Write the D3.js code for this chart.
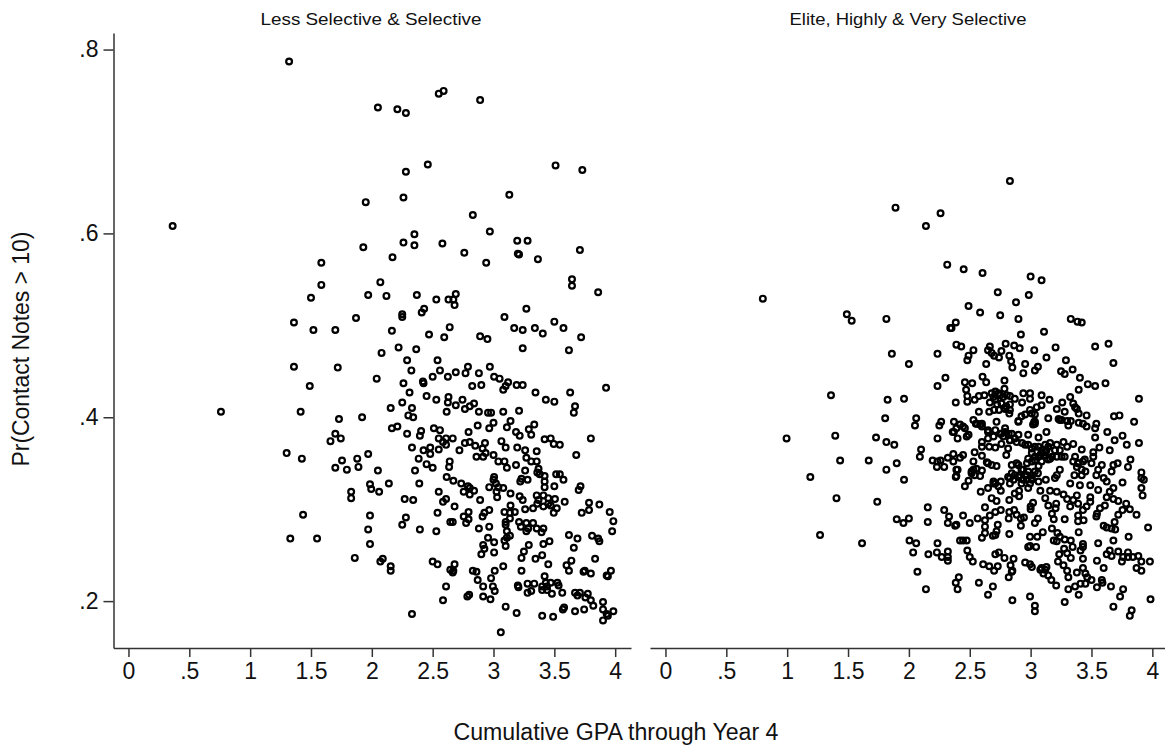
<!DOCTYPE html>
<html>
<head>
<meta charset="utf-8">
<script src="https://cdn.jsdelivr.net/npm/d3@7"></script>
<style>
  html, body { margin: 0; background: #fff; }
  text { font-family: "Liberation Sans", Arial, sans-serif; fill: #111; }
</style>
</head>
<body>
<div id="chart"></div>
<script>
var panelTitles = ["Less Selective & Selective", "Elite, Highly & Very Selective"];
var xTicks = [0, .5, 1, 1.5, 2, 2.5, 3, 3.5, 4];
var yTicks = [.2, .4, .6, .8];

// [gpa, pr]
var lessSelective = [
[1.32,.787],[2.05,.737],[1.95,.634],[.363,.608],[.76,.406],[1.93,.585],[1.585,.568],[1.585,.544],[1.50,.530],[2.07,.547],[1.97,.533],[1.36,.503],[1.52,.495],[1.70,.495],[1.87,.508],
[2.21,.735],[2.28,.731],[2.55,.752],[2.59,.755],[2.89,.745],[2.46,.675],[2.28,.667],[3.51,.674],[3.73,.669],[2.26,.639],[3.13,.642],[2.83,.620],[2.97,.602],[2.35,.599],[2.26,.590],[2.35,.587],[2.58,.589],[2.76,.579],[2.94,.568],[2.17,.574],[3.195,.592],[3.28,.592],[3.20,.578],[3.21,.577],[3.365,.572],[3.71,.582],[3.645,.550],[3.645,.543],[3.86,.536],[2.12,.532],[2.37,.533],[2.53,.528],[2.63,.528],[2.69,.534],[2.67,.528],[2.68,.522],[2.43,.518],[2.41,.514],[2.25,.512],[2.25,.509],[3.09,.509],[3.27,.518],[3.50,.504],[3.575,.497],[3.17,.497],[3.24,.495],[3.34,.497],[3.405,.491],[3.72,.487],[2.165,.494],[2.64,.498],[2.47,.490],[2.595,.487],[2.89,.488],[2.95,.485],[2.22,.476],[2.365,.474],[2.08,.470],[3.24,.475],[3.62,.473],
[1.36,.455],[1.72,.454],[1.49,.434],[1.415,.406],[1.73,.398],[1.92,.400],[1.70,.382],[1.745,.377],[1.66,.374],[1.30,.361],[1.425,.355],[1.755,.353],[1.70,.345],[1.795,.343],[1.88,.355],[1.89,.346],[1.97,.360],[2.05,.342],[1.985,.327],[1.995,.322],[2.06,.319],[2.14,.328],[1.83,.319],[1.83,.312],[1.435,.294],[1.985,.293],[1.97,.278],[1.985,.262],[1.33,.268],[1.55,.268],[1.86,.247],[2.09,.246],[2.07,.243],[2.155,.238],[2.155,.233],[2.50,.243],[2.54,.240],[2.61,.216],[2.585,.201],[2.33,.186],
[2.29,.462],[2.54,.462],[2.325,.451],[2.56,.451],[2.50,.444],[2.625,.444],[2.04,.442],[2.26,.437],[2.42,.439],[2.425,.437],[2.31,.427],[2.45,.423],[2.53,.419],[2.25,.416],[2.155,.410],[2.33,.410],[2.63,.422],[2.625,.416],[2.615,.406],[2.30,.402],[2.34,.400],[2.21,.390],[2.165,.388],[2.29,.382],[2.405,.385],[2.395,.380],[2.51,.388],[2.56,.386],[2.55,.377],[2.61,.377],[2.585,.373],[2.61,.370],[2.33,.367],[2.425,.364],[2.48,.367],[2.48,.360],[2.55,.365],[2.385,.355],[2.45,.349],[2.50,.345],[2.355,.342],[2.635,.346],[2.64,.352],[2.615,.335],[2.39,.328],[2.55,.319],[2.61,.311],[2.585,.308],[2.27,.311],[2.34,.310],[2.54,.296],[2.28,.291],[2.25,.283],[2.395,.278],[2.53,.276],[2.645,.286],[2.645,.234],
[2.79,.455],[2.77,.448],[2.69,.449],[2.88,.448],[2.97,.455],[3.005,.444],[3.05,.442],[3.12,.438],[3.10,.434],[3.08,.430],[3.19,.435],[3.24,.435],[2.90,.435],[2.825,.434],[3.345,.427],[3.63,.427],[3.925,.432],[3.43,.419],[3.50,.417],[3.67,.412],[3.66,.405],[2.745,.419],[2.69,.413],[2.765,.409],[2.805,.412],[2.84,.415],[2.88,.406],[2.955,.405],[2.98,.405],[3.08,.406],[3.21,.407],[2.87,.391],[3.00,.394],[2.965,.388],[3.14,.396],[3.11,.389],[3.335,.392],[3.29,.387],[3.31,.381],[3.185,.384],[3.215,.380],[2.795,.384],[2.665,.377],[3.42,.376],[3.47,.377],[3.495,.371],[3.545,.370],[3.80,.377],[3.68,.359],[3.065,.374],[3.10,.367],[3.195,.367],[3.26,.364],[3.355,.363],[3.27,.356],[3.31,.352],[3.355,.352],[3.185,.348],[3.26,.342],[3.37,.344],[3.36,.340],[3.38,.338],[3.42,.336],[3.515,.338],[3.545,.338],[3.575,.332],[3.50,.325],[3.715,.325],[3.70,.321],[3.42,.330],[3.42,.324],[3.23,.333],[3.22,.330],[3.28,.332],
[2.765,.372],[2.805,.373],[2.85,.369],[2.93,.372],[2.91,.366],[2.72,.364],[2.86,.357],[2.915,.357],[2.935,.361],[3.00,.359],[3.04,.352],[3.09,.352],[3.11,.345],[2.67,.331],[2.735,.328],[2.79,.325],[2.805,.323],[2.755,.319],[2.805,.316],[2.84,.320],[2.89,.310],[3.005,.335],[3.00,.332],[3.02,.328],[2.965,.324],[3.04,.324],[3.08,.323],[3.025,.319],[3.03,.313],[3.14,.317],[3.215,.314],[3.24,.310],[3.355,.315],[3.41,.315],[3.45,.312],[3.505,.311],[3.585,.308],[3.37,.310],[3.36,.306],[3.41,.303],[3.45,.306],[3.47,.304],[3.52,.301],[3.495,.296],[3.26,.300],[3.325,.301],[3.785,.307],[3.87,.305],[3.785,.299],[3.725,.296],[3.955,.297],[3.985,.287],[3.975,.276],[2.68,.303],[2.795,.297],[2.755,.292],[2.795,.289],[2.775,.285],[2.665,.286],[2.925,.296],[2.965,.299],[2.91,.292],[2.88,.279],[2.965,.281],
[3.14,.304],[3.09,.297],[3.135,.296],[3.175,.297],[3.135,.290],[3.10,.286],[3.10,.283],[3.11,.276],[3.135,.271],[3.11,.269],[3.21,.286],[3.225,.281],[3.27,.285],[3.325,.285],[3.27,.276],[3.285,.279],[3.355,.279],[3.41,.279],[3.395,.275],[3.62,.272],[3.69,.268],[3.81,.271],[3.86,.268],[3.87,.265],[3.66,.258],[2.955,.269],[3.005,.264],[2.915,.261],[2.925,.257],[3.005,.253],[2.90,.251],[3.09,.266],[3.10,.260],[3.29,.261],[3.46,.265],[3.41,.262],[3.25,.254],[3.23,.247],[3.40,.250],[3.345,.246],[3.45,.240],[3.835,.246],[3.64,.244],[3.60,.239],[3.62,.233],[2.68,.240],[2.67,.233],[2.665,.231],[2.83,.233],[2.86,.232],[2.87,.223],[2.915,.216],[3.01,.233],[3.08,.238],[2.98,.225],[2.995,.216],[3.01,.211],[3.23,.233],[3.74,.232],[3.80,.230],[3.75,.233],[3.965,.233],[3.93,.228],[3.94,.227],[3.42,.227],[3.20,.217],[3.205,.215],[3.28,.219],[3.335,.219],[3.43,.220],[3.47,.220],[3.525,.220],[3.535,.217],[3.40,.216],[3.44,.216],[3.40,.212],[3.44,.212],[3.31,.211],[3.28,.209],[3.48,.208],[3.565,.209],[3.67,.209],[3.71,.209],[3.69,.206],[3.775,.208],[3.755,.204],[3.80,.201],[3.82,.195],[2.785,.205],[2.80,.207],[2.915,.205],[2.975,.202],[3.10,.194],[3.19,.187],[3.40,.184],[3.49,.183],[3.67,.189],[3.745,.191],[3.57,.191],[3.58,.193],[3.90,.199],[3.90,.191],[3.985,.189],[3.93,.186],[3.94,.184],[3.90,.179],[3.06,.166]
];

var eliteHighly = [
[2.83,.657],[1.89,.628],[2.26,.622],[2.14,.608],[2.315,.566],[.80,.529],[1.49,.512],[1.53,.505],[1.815,.507],[2.34,.497],[1.86,.469],[2.00,.458],[2.235,.469],[2.30,.443],[2.235,.434],[1.36,.424],[1.825,.419],[1.96,.420],
[2.45,.561],[2.605,.557],[3.00,.553],[3.09,.549],[2.73,.536],[2.985,.533],[2.88,.525],[2.49,.521],[2.585,.514],[2.75,.511],[2.90,.507],[3.33,.507],[3.385,.504],[3.42,.503],[2.385,.503],[2.35,.497],[3.11,.493],[2.92,.490],[3.64,.480],[3.53,.477],[2.39,.479],[2.43,.477],[2.53,.473],[2.49,.467],[2.48,.462],[2.665,.477],[2.65,.473],[2.68,.470],[2.70,.467],[2.795,.480],[2.76,.472],[2.74,.465],[2.865,.478],[2.91,.475],[2.825,.467],[2.84,.461],[2.85,.454],[3.03,.473],[3.205,.476],[3.13,.465],[3.29,.462],[2.635,.458],[2.955,.458],[3.06,.455],[3.035,.451],[2.94,.448],[3.345,.452],[3.25,.450],[3.28,.447],[3.68,.459],[3.405,.443],[3.47,.436],[3.53,.434],[3.615,.437],[3.395,.430],[2.605,.444],[2.635,.438],[2.46,.438],[2.52,.437],[2.47,.430],[2.48,.423],[2.48,.417],[2.54,.419],[2.575,.423],[2.62,.424],[2.385,.416],[2.785,.440],[2.785,.431],
[2.94,.426],[2.995,.426],[2.995,.420],[2.87,.420],[2.93,.416],[3.09,.424],[3.155,.419],[3.09,.413],[3.325,.422],[3.26,.416],[3.215,.409],[3.28,.406],[3.35,.415],[3.365,.411],[3.38,.409],[3.395,.404],[3.46,.402],[3.89,.420],[3.685,.401],[3.73,.402],[3.85,.395],[2.575,.406],[2.66,.406],[2.70,.408],[2.68,.426],[2.71,.428],[2.735,.426],[2.695,.422],[2.75,.424],[2.805,.424],[2.83,.423],[2.775,.422],[2.71,.419],[2.665,.416],[2.725,.414],[2.76,.415],[2.80,.412],[2.83,.414],[2.74,.408],[2.79,.409],[2.83,.408],[2.825,.404],[2.785,.410],[2.90,.396],[2.925,.401],[2.955,.403],[2.995,.408],[3.05,.411],[3.01,.404],[3.035,.403],[3.035,.395],[3.02,.392],[3.145,.399],[3.23,.398],[3.255,.397],[3.30,.396],[3.33,.396],[3.395,.394],[3.43,.393],[3.54,.393],[3.46,.390],[2.53,.397],[2.55,.393],[2.585,.392],[2.37,.395],[2.265,.395],
[1.805,.399],[2.06,.399],[2.05,.391],[2.25,.391],[2.36,.384],[2.39,.388],[2.235,.377],[2.40,.377],[.995,.377],[1.395,.380],[1.73,.378],[1.815,.373],[1.88,.370],[2.10,.365],[2.09,.357],[1.435,.353],[1.67,.353],[1.90,.350],[1.815,.343],[2.195,.353],[2.23,.346],[2.26,.353],[2.29,.346],[2.32,.356],[2.365,.360],[2.365,.352],[2.42,.356],[2.235,.352],[1.19,.335],[1.96,.332],[2.39,.343],[2.385,.335],[2.39,.336],[1.405,.312],[1.74,.308],[2.155,.302],[2.29,.299],[2.33,.292],[2.32,.285],[2.38,.282],[2.39,.283],[1.90,.289],[2.00,.290],[1.955,.285],[2.155,.286],[1.27,.272],[1.615,.263],[2.005,.266],[2.06,.263],[2.235,.263],[2.42,.266],[2.035,.253],[2.16,.251],[2.23,.253],[2.27,.248],[2.32,.254],[2.32,.248],[2.32,.244],[2.07,.232],[2.14,.213],[2.385,.220],[2.41,.226],[2.40,.213],
[3.13,.384],[3.63,.384],[3.53,.378],[3.69,.375],[3.755,.380],[3.79,.370],[3.89,.372],[3.65,.364],[3.565,.367],[3.515,.362],[3.515,.357],[3.82,.354],[3.80,.346],[3.715,.350],[3.68,.348],[3.665,.341],[3.585,.348],[3.555,.343],[3.54,.337],[3.60,.334],[3.625,.330],[3.91,.340],[3.91,.334],[3.93,.332],[3.91,.323],[3.92,.315],[3.755,.329],[3.555,.321],[3.49,.326],[3.405,.326],[3.325,.328],[3.68,.323],[3.65,.319],[3.625,.313],[3.68,.311],[3.72,.309],[3.785,.306],[3.755,.299],[3.815,.300],[3.72,.294],[3.87,.294],[3.69,.286],[3.695,.278],[3.665,.279],[3.60,.282],[3.625,.280],[3.965,.280],[3.805,.270],[3.68,.266],[3.555,.263],[3.65,.255],[3.625,.251],[3.665,.249],[3.72,.254],[3.80,.253],[3.76,.248],[3.75,.243],[3.80,.248],[3.84,.248],[3.885,.249],[3.91,.243],[3.87,.236],[3.91,.233],[3.98,.243],[3.545,.244],[3.60,.236],[3.66,.216],[3.76,.213],[3.735,.205],[3.68,.194],[3.985,.202],[3.83,.190],[3.815,.184],[3.545,.215],[3.585,.223],[3.59,.220],
[3.43,.246],[3.43,.259],[3.41,.255],[3.395,.275],[3.28,.289],[3.39,.293],[3.39,.287],[3.435,.288],[3.54,.292],[3.545,.295],[3.57,.301],[3.61,.304],[3.49,.313],[3.49,.308],[3.46,.303],[3.43,.299],[3.38,.315],[3.35,.310],[3.39,.306],[3.325,.303],[3.27,.316],[3.30,.311],[3.215,.319],[3.16,.320],[3.08,.320],[3.12,.312],[3.145,.304],[3.21,.306],[3.205,.301],[3.175,.295],[3.19,.289],[3.06,.290],[3.035,.285],[3.02,.307],[3.00,.303],[3.00,.300],[3.175,.279],[3.22,.274],[3.24,.270],[3.19,.266],[3.28,.267],[3.33,.266],[3.215,.265],[3.345,.259],[3.43,.262],[3.275,.257],[3.30,.252],[3.235,.251],[3.33,.247],[3.225,.243],[3.27,.239],[3.30,.233],[3.31,.226],[3.38,.231],[3.43,.236],[3.45,.230],[3.465,.226],[3.50,.223],[3.45,.219],[3.41,.219],[3.365,.216],[3.31,.213],[3.395,.207],[3.28,.199],[3.035,.195],[3.035,.189],[2.995,.205],[2.85,.201],[2.65,.207],[2.69,.216],[2.575,.220],
[2.82,.226],[2.845,.232],[2.86,.246],[2.835,.239],[2.85,.233],[2.955,.242],[2.995,.240],[3.01,.237],[3.08,.234],[3.105,.230],[3.13,.237],[3.145,.228],[3.17,.223],[3.21,.217],[3.09,.236],[3.12,.234],[2.61,.240],[2.66,.238],[2.70,.233],[2.73,.238],[2.71,.251],[2.74,.253],[2.785,.247],[2.50,.248],[2.525,.243],[2.48,.255],[2.445,.266],[2.475,.266],[2.825,.273],[2.69,.271],[2.71,.272],[2.60,.269],[2.625,.274],[2.625,.281],[2.73,.283],[2.72,.276],[2.50,.285],[2.565,.290],[2.445,.293],[2.665,.293],[2.71,.297],[2.755,.299],[2.625,.288],[2.82,.290],[2.825,.297],[2.865,.299],[2.885,.294],[2.92,.290],[2.945,.291],[2.92,.282],[2.995,.270],[3.055,.270],[3.10,.275],[2.98,.259],[2.995,.260],[3.045,.259],[2.625,.302],[2.68,.312],[2.72,.309],[2.825,.310],
[2.59,.319],[2.65,.323],[2.755,.320],[2.695,.328],[2.755,.330],[2.46,.325],[2.49,.331],[2.87,.317],[2.905,.314],[2.905,.320],[2.83,.328],[2.815,.335],[2.86,.332],[2.925,.328],[2.98,.323],[3.01,.332],[3.06,.339],[3.125,.332],[3.065,.330],[2.885,.350],[2.925,.343],[2.98,.341],[2.845,.339],[2.90,.335],[2.955,.337],[3.01,.337],[2.97,.332],[3.215,.337],[3.24,.343],[3.20,.334],[3.36,.337],[3.42,.343],[3.45,.341],[3.42,.337],[2.445,.359],[2.53,.352],[2.40,.343],[2.53,.343],[2.515,.339],[2.555,.344],[2.60,.342],[2.585,.336],[2.65,.350],[2.68,.348],[2.72,.347],[2.37,.384],[2.49,.381],[2.445,.390],[2.60,.393],[2.60,.373],[2.60,.368],[2.65,.377],[2.66,.368],[2.71,.367],[2.76,.371],[2.815,.366],[2.80,.359],[2.83,.375],[2.75,.382],[2.695,.379],[2.65,.386],[2.54,.362],[2.60,.358],[2.64,.351],
[2.79,.384],[2.845,.382],[2.90,.381],[2.98,.381],[3.065,.378],[2.885,.373],[2.955,.370],[3.01,.366],[3.065,.368],[3.12,.370],[3.16,.372],[3.215,.370],[3.27,.373],[3.35,.371],[3.42,.365],[3.30,.368],[3.24,.364],[3.13,.364],[3.09,.361],[3.035,.357],[2.98,.355],[3.215,.357],[3.28,.357],[3.35,.352],[3.39,.350],[3.445,.354],[3.50,.350],[3.08,.359],[3.12,.362],[3.16,.355],[2.845,.348],[2.90,.348],[2.97,.350],[3.065,.347],[3.01,.352],[3.31,.391],[3.53,.388],[2.72,.395],[2.90,.395],[2.79,.388],
[2.56,.393],[2.60,.390],[2.65,.384],[2.71,.386],[2.76,.382],[2.82,.382],[2.87,.377],[2.93,.372],[2.98,.370],[3.035,.368],[3.09,.364],[3.145,.368],[3.20,.364],[2.775,.379],[2.83,.375],[3.01,.361],[3.065,.357],[3.12,.359],[3.175,.357],[3.255,.357],[3.035,.353],[3.09,.352],[3.145,.354],[3.365,.357],[3.39,.350],[3.43,.352],[2.91,.337],[2.97,.337],[3.01,.334],[2.94,.332],[2.995,.328],[2.87,.337],[2.83,.334],[3.035,.341],[2.94,.343],[2.71,.328],[2.695,.330],[2.735,.325],[2.515,.341],[2.54,.337],[3.035,.393],[3.03,.395],[3.24,.397],[2.46,.388],[2.42,.392],[2.475,.379],[3.38,.346]
];

var seriesByPanel = [lessSelective, eliteHighly];

var width = 1165, height = 750;
var svg = d3.select("#chart").append("svg").attr("width", width).attr("height", height)
  .style("display", "block");

var y = d3.scaleLinear().domain([.149, .818]).range([648, 33]);
var xLeft = d3.scaleLinear().domain([-.123, 4.13]).range([113.5, 631]);
var xRight = d3.scaleLinear().domain([-.127, 4.104]).range([650, 1165]);
var panels = [xLeft, xRight];

var fmt = d => String(d).replace(/^0\./, ".");

function styleAxis(g) {
  g.selectAll("path, line").attr("stroke", "#333").attr("stroke-width", 1.5);
  g.selectAll("text").style("font-size", "23px").attr("fill", "#111");
}

panels.forEach(function(x, i) {
  var ax = svg.append("g").attr("transform", "translate(0,648)")
    .call(d3.axisBottom(x).tickValues(xTicks).tickFormat(fmt).tickSize(9).tickSizeOuter(0).tickPadding(6));
  styleAxis(ax);

  svg.append("text").attr("x", i == 0 ? 371 : 908).attr("y", 25)
    .attr("text-anchor", "middle").style("font-size", "17px").attr("textLength", i == 0 ? 221 : 237)
    .attr("lengthAdjust", "spacingAndGlyphs").text(panelTitles[i]);

  svg.append("g").selectAll("circle").data(seriesByPanel[i]).enter().append("circle")
    .attr("cx", d => x(d[0])).attr("cy", d => y(d[1])).attr("r", 2.9)
    .attr("fill", "none").attr("stroke", "#000").attr("stroke-width", 2.2);
});

var ay = svg.append("g").attr("transform", "translate(113.5,0)")
  .call(d3.axisLeft(y).tickValues(yTicks).tickFormat(fmt).tickSize(10).tickSizeOuter(0).tickPadding(5));
styleAxis(ay);

svg.append("text").attr("x", 616).attr("y", 740).attr("text-anchor", "middle")
  .style("font-size", "23px").attr("textLength", 325).attr("lengthAdjust", "spacingAndGlyphs")
  .text("Cumulative GPA through Year 4");
svg.append("text").attr("transform", "translate(29,349) rotate(-90)").attr("text-anchor", "middle")
  .style("font-size", "23px").attr("textLength", 235).attr("lengthAdjust", "spacingAndGlyphs")
  .text("Pr(Contact Notes > 10)");
</script>
</body>
</html>
